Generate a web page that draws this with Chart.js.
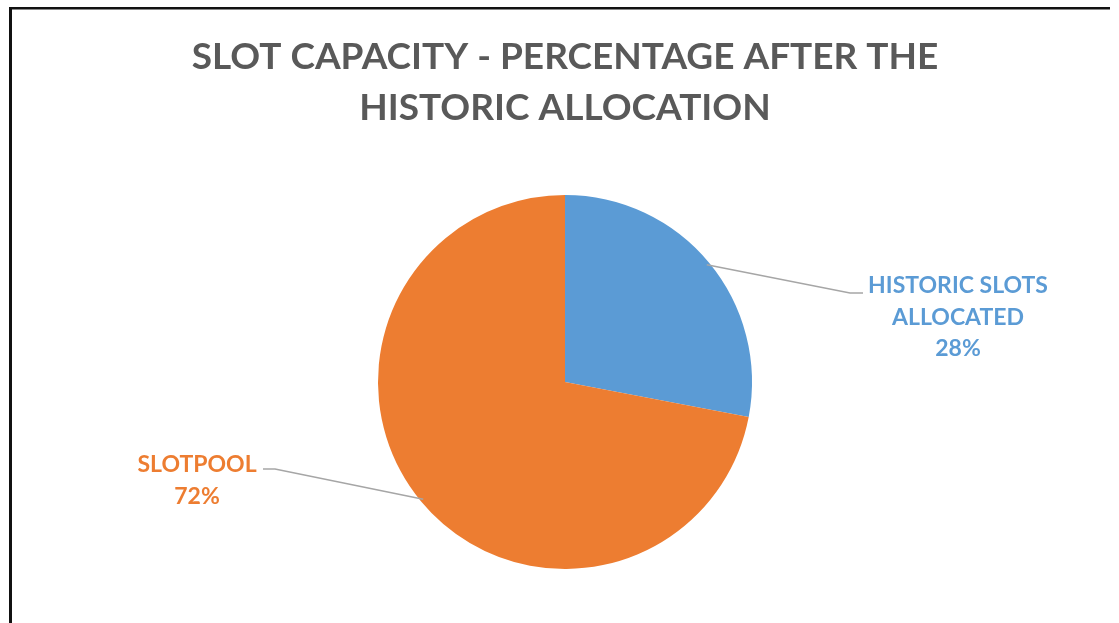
<!DOCTYPE html>
<html>
<head>
<meta charset="utf-8">
<title>Slot capacity</title>
<script src="https://cdn.jsdelivr.net/npm/chart.js@4"></script>
<style>
  body { margin: 0; background: #fff; }
  canvas { display: block; }
</style>
</head>
<body>
<canvas id="grafico" width="1119" height="623"></canvas>
<script>
//  DADOS
const titulo = ['SLOT CAPACITY - PERCENTAGE AFTER THE', 'HISTORIC ALLOCATION'];
const categorias = ['HISTORIC SLOTS ALLOCATED', 'SLOTPOOL'];
const valores = [28, 72];
const rotulos = [['HISTORIC SLOTS', 'ALLOCATED', '28%'], ['SLOTPOOL', '72%']];
const cores = ['#5B9BD5', '#ED7D31'];

//  MOLDURA + TITULO
const moldura = {
  id: 'moldura',
  beforeDraw(chart) {
    const ctx = chart.ctx;
    ctx.save();
    ctx.fillStyle = '#fff';
    ctx.fillRect(0, 0, chart.width, chart.height);
    ctx.fillStyle = '#111';
    ctx.fillRect(9, 7, 3, chart.height - 7);
    ctx.fillRect(9, 7, 1101, 2.5);
    ctx.fillStyle = '#595959';
    ctx.font = 'bold 37px Lato';
    ctx.textAlign = 'center';
    ctx.textBaseline = 'alphabetic';
    ctx.fillText(titulo[0], 565, 69);
    ctx.fillText(titulo[1], 565, 120);
    ctx.restore();
  }
};

//  ROTULOS COM LINHAS
const rotulosPlugin = {
  id: 'rotulos',
  afterDatasetsDraw(chart) {
    const ctx = chart.ctx;
    const arcos = chart.getDatasetMeta(0).data;
    // posicao do texto (centro x, baseline da 1a linha) e cotovelo da linha
    const layout = [
      { x: 958, y: 293, cotovelo: [850, 293], fim: [863, 293] },
      { x: 197, y: 472, cotovelo: [275, 469], fim: [263, 469] }
    ];
    ctx.save();
    arcos.forEach((arco, i) => {
      const meio = (arco.startAngle + arco.endAngle) / 2;
      const ax = arco.x + Math.cos(meio) * (arco.outerRadius - 3);
      const ay = arco.y + Math.sin(meio) * (arco.outerRadius - 3);
      const l = layout[i];
      ctx.strokeStyle = '#A6A6A6';
      ctx.lineWidth = 1.5;
      ctx.beginPath();
      ctx.moveTo(ax, ay);
      ctx.lineTo(l.cotovelo[0], l.cotovelo[1]);
      ctx.lineTo(l.fim[0], l.fim[1]);
      ctx.stroke();

      ctx.fillStyle = cores[i];
      ctx.font = 'bold 23px Lato';
      ctx.textAlign = 'center';
      rotulos[i].forEach((txt, j) => {
        ctx.fillText(txt, l.x, l.y + j * 31.5);
      });
    });
    ctx.restore();
  }
};

new Chart(document.getElementById('grafico'), {
  type: 'pie',
  data: {
    labels: categorias,
    datasets: [{
      data: valores,
      backgroundColor: cores,
      borderWidth: 0
    }]
  },
  options: {
    responsive: false,
    animation: false,
    layout: {
      padding: { top: 195, bottom: 54, left: 11, right: 0 }
    },
    plugins: {
      legend: { display: false },
      tooltip: { enabled: false },
      title: { display: false }
    }
  },
  plugins: [moldura, rotulosPlugin]
});
</script>
</body>
</html>
